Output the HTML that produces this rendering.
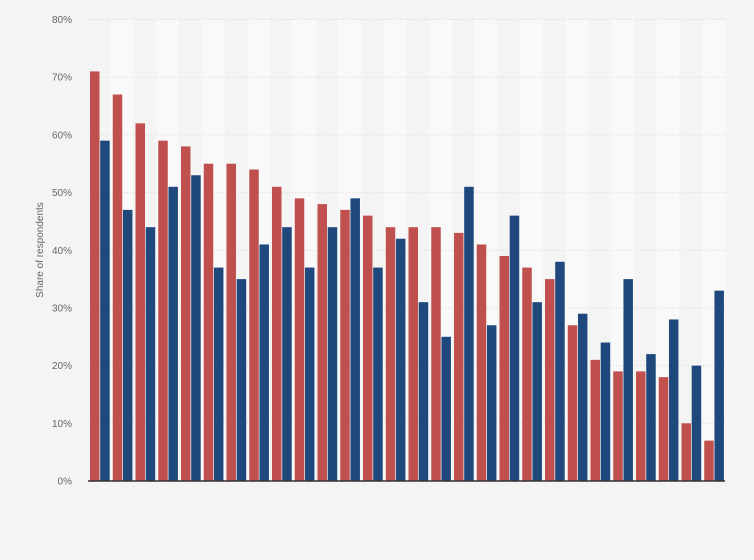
<!DOCTYPE html>
<html><head><meta charset="utf-8"><style>
body{margin:0;background:#f4f4f4;font-family:"Liberation Sans",sans-serif}
svg{display:block}
</style></head><body>
<svg id="chart" width="754" height="560">
<rect width="754" height="560" fill="#f4f4f4"/>
<g id="bands"></g><g id="grid"></g><g id="bars"></g>
<line x1="88" x2="725" y1="481" y2="481" stroke="#333" stroke-width="1.5"/>
<text transform="translate(43,250) rotate(-90)" text-anchor="middle" font-size="10" fill="#666">Share of respondents</text>
</svg>
<script>
const categories = Array.from({length:28},(_,i)=>'Item '+(i+1));
const seriesRed = [71,67,62,59,58,55,55,54,51,49,48,47,46,44,44,44,43,41,39,37,35,27,21,19,19,18,10,7];
const seriesBlue = [59,47,44,51,53,37,35,41,44,37,44,49,37,42,31,25,51,27,46,31,38,29,24,35,22,28,20,33];
const ticks = [0,10,20,30,40,50,60,70,80];
const x0=88,x1=725,yBase=481,yTop=19.5,maxV=80;
const gw=(x1-x0)/categories.length;
const y=v=>yBase-(yBase-yTop)*v/maxV;
const NS='http://www.w3.org/2000/svg';
const mk=(p,t,a)=>{const e=document.createElementNS(NS,t);for(const k in a)e.setAttribute(k,a[k]);p.appendChild(e);return e;};
const bands=document.getElementById('bands'),grid=document.getElementById('grid'),bars=document.getElementById('bars');
categories.forEach((c,i)=>{if(i%2==1){const r=mk(bands,'rect',{x:x0+i*gw,y:yTop,width:gw,height:yBase-yTop,fill:'#f9f9f9'});

}});
ticks.forEach(t=>{const l=mk(grid,'line',{x1:x0,x2:x1,y1:y(t),y2:y(t),stroke:'#d8d8d8','stroke-dasharray':'1,2'});


const tx=mk(grid,'text',{x:72,y:y(t)+3.5,'text-anchor':'end','font-size':'10',fill:'#666'});tx.textContent=t+'%';

});
categories.forEach((c,i)=>{const gx=x0+i*gw;
const r=mk(bars,'rect',{x:gx+2,y:y(seriesRed[i]),width:9.5,height:yBase-y(seriesRed[i]),fill:'#c0504d'});


const b=mk(bars,'rect',{x:gx+12.2,y:y(seriesBlue[i]),width:9.5,height:yBase-y(seriesBlue[i]),fill:'#1f497d'});

});
</script>
</body></html>
